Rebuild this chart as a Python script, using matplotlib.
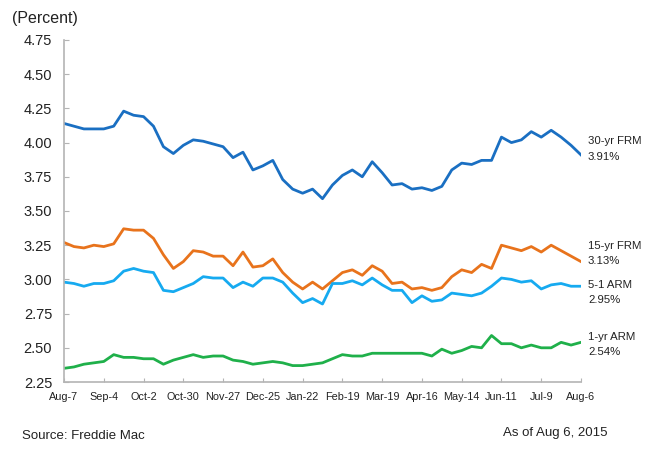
import numpy as np
import matplotlib
matplotlib.use('Agg')
from matplotlib import pyplot as plt

plt.rcParams['font.family'] = ['Liberation Sans', 'DejaVu Sans']

# weekly rates, Aug 7 2014 .. Aug 6 2015
frm30 = [4.14, 4.12, 4.10, 4.10, 4.10, 4.12, 4.23, 4.20, 4.19, 4.12,
         3.97, 3.92, 3.98, 4.02, 4.01, 3.99, 3.97, 3.89, 3.93, 3.80,
         3.83, 3.87, 3.73, 3.66, 3.63, 3.66, 3.59, 3.69, 3.76, 3.80,
         3.75, 3.86, 3.78, 3.69, 3.70, 3.66, 3.67, 3.65, 3.68, 3.80,
         3.85, 3.84, 3.87, 3.87, 4.04, 4.00, 4.02, 4.08, 4.04, 4.09,
         4.04, 3.98, 3.91]
frm15 = [3.27, 3.24, 3.23, 3.25, 3.24, 3.26, 3.37, 3.36, 3.36, 3.30,
         3.18, 3.08, 3.13, 3.21, 3.20, 3.17, 3.17, 3.10, 3.20, 3.09,
         3.10, 3.15, 3.05, 2.98, 2.93, 2.98, 2.93, 2.99, 3.05, 3.07,
         3.03, 3.10, 3.06, 2.97, 2.98, 2.93, 2.94, 2.92, 2.94, 3.02,
         3.07, 3.05, 3.11, 3.08, 3.25, 3.23, 3.21, 3.24, 3.20, 3.25,
         3.21, 3.17, 3.13]
arm51 = [2.98, 2.97, 2.95, 2.97, 2.97, 2.99, 3.06, 3.08, 3.06, 3.05,
         2.92, 2.91, 2.94, 2.97, 3.02, 3.01, 3.01, 2.94, 2.98, 2.95,
         3.01, 3.01, 2.98, 2.90, 2.83, 2.86, 2.82, 2.97, 2.97, 2.99,
         2.96, 3.01, 2.96, 2.92, 2.92, 2.83, 2.88, 2.84, 2.85, 2.90,
         2.89, 2.88, 2.90, 2.95, 3.01, 3.00, 2.98, 2.99, 2.93, 2.96,
         2.97, 2.95, 2.95]
arm1 = [2.35, 2.36, 2.38, 2.39, 2.40, 2.45, 2.43, 2.43, 2.42, 2.42,
        2.38, 2.41, 2.43, 2.45, 2.43, 2.44, 2.44, 2.41, 2.40, 2.38,
        2.39, 2.40, 2.39, 2.37, 2.37, 2.38, 2.39, 2.42, 2.45, 2.44,
        2.44, 2.46, 2.46, 2.46, 2.46, 2.46, 2.46, 2.44, 2.49, 2.46,
        2.48, 2.51, 2.50, 2.59, 2.53, 2.53, 2.50, 2.52, 2.50, 2.50,
        2.54, 2.52, 2.54]

tick_labels = ['Aug-7', 'Sep-4', 'Oct-2', 'Oct-30', 'Nov-27', 'Dec-25', 'Jan-22',
               'Feb-19', 'Mar-19', 'Apr-16', 'May-14', 'Jun-11', 'Jul-9', 'Aug-6']
series_names = ['30-yr FRM', '15-yr FRM', '5-1 ARM', '1-yr ARM']
colors = ['#1a6fc2', '#e8731c', '#16aaf0', '#1fb04a']
label_offsets = [6, 8, -6, -2]  # px above the last value

fig = plt.figure(figsize=(6.55, 4.5), dpi=100)
ax = fig.add_axes([64 / 655, 1 - 382 / 450, (581 - 64) / 655, (382 - 40) / 450])

x = np.arange(len(frm30))
all_series = [frm30, frm15, arm51, arm1]
for vals, name, c, off in zip(all_series, series_names, colors, label_offsets):
    ax.plot(x, vals, color=c, lw=2.0, solid_joinstyle='round')
    ax.annotate('%s\n%.2f%%' % (name, vals[-1]), xy=(x[-1], vals[-1]),
                xytext=(5, off * 0.72), textcoords='offset points',
                ha='left', va='center', fontsize=8.2, color='#222222',
                linespacing=1.65, annotation_clip=False)

ax.set_xlim(0, len(x) - 1)
ax.set_ylim(2.25, 4.75)
ax.set_yticks(np.arange(2.25, 4.76, 0.25))
ax.set_yticklabels(['%.2f' % v for v in np.arange(2.25, 4.76, 0.25)])
ax.set_xticks(x[::4])
ax.set_xticklabels(tick_labels)

for s in ['top', 'right']:
    ax.spines[s].set_visible(False)
for s in ['left', 'bottom']:
    ax.spines[s].set_color('#b4b4b4')
    ax.spines[s].set_linewidth(1.2)

ax.tick_params(axis='y', direction='in', length=3.5, color='#b4b4b4',
               labelsize=10.5, pad=8.5, labelcolor='#222222')
ax.tick_params(axis='x', direction='in', length=3, color='#b4b4b4',
               labelsize=7.8, pad=7, labelcolor='#222222')

fig.text(12 / 655, 1 - 18 / 450, '(Percent)', fontsize=11.5, ha='left', va='center', color='#222222')
fig.text(22 / 655, 1 - 436 / 450, 'Source: Freddie Mac', fontsize=9.5, ha='left', va='center', color='#222222')
fig.text(503 / 655, 1 - 433 / 450, 'As of Aug 6, 2015', fontsize=9.5, ha='left', va='center', color='#222222')

fig.savefig('out.png', dpi=100)
